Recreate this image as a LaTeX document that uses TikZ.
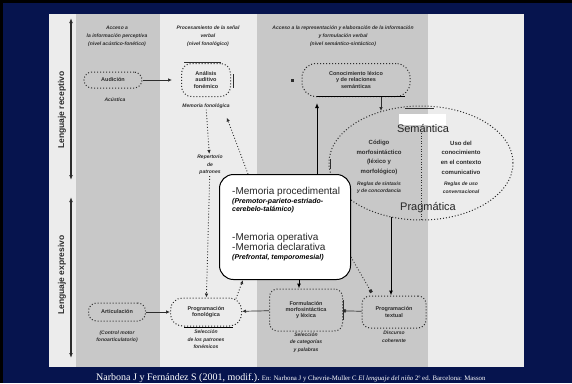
\documentclass[tikz,border=0pt]{standalone}
\usepackage{fontspec}
\setmainfont{Liberation Sans}
\newfontfamily\serifa{Liberation Serif}
\usetikzlibrary{arrows.meta,shapes.geometric}
\definecolor{fondo}{RGB}{6,20,78}
\definecolor{banda}{RGB}{200,200,200}
\definecolor{claro}{RGB}{236,236,236}
\definecolor{tinta}{RGB}{45,45,45}
\begin{document}
\begin{tikzpicture}[x=1pt,y=-1pt,
            caja/.style={draw=tinta,dotted,line width=1pt,rounded corners=8pt,align=center,text=tinta,font=\fontsize{5.5}{6.2}\selectfont\bfseries,inner sep=1pt},
            nota/.style={align=center,text=tinta,font=\fontsize{5}{7.5}\selectfont\bfseries\itshape},
            cabeza/.style={align=center,text=tinta,font=\fontsize{5}{8}\selectfont\bfseries\itshape},
            flecha/.style={draw=tinta,line width=0.7pt,-{Latex[length=4pt,width=3.5pt]}},
            punteado/.style={draw=tinta,dotted,line width=0.9pt,-{Latex[length=4pt,width=3.5pt]}},
            solida/.style={draw=black,line width=1pt,-{Latex[length=5pt,width=4pt]}},
            memo/.style={anchor=base west,inner sep=0pt,text=black!85,font=\fontsize{10}{12}\selectfont},
            cita/.style={anchor=base west,inner sep=0pt,font=\fontsize{7}{8}\selectfont\bfseries\itshape}]
            \fill[fondo] (0,0) rectangle (572,383);
            \fill[black] (0,0) rectangle (572,3);
            \fill[black] (0,0) rectangle (3,383);
            \useasboundingbox (0,0) rectangle (572,383);
            \fill[claro] (49,14) rectangle (524,367);
            \fill[banda] (76,14) rectangle (160,367);
            \fill[banda] (257,14) rectangle (428,367);
            \coordinate (ejeA) at (71,18);
            \coordinate (ejeB) at (71,180);
            \coordinate (ejeC) at (71,197);
            \coordinate (ejeD) at (71,358);
            \draw[tinta,line width=1.2pt,{Latex[length=5pt]}-{Latex[length=5pt]}] (ejeA) -- (ejeB);
            \draw[tinta,line width=1.2pt,{Latex[length=5pt]}-{Latex[length=5pt]}] (ejeC) -- (ejeD);
            \node[rotate=90,text=tinta,font=\fontsize{8.5}{9}\selectfont\bfseries] (receptivo) at (62,110) {Lenguaje receptivo};
            \node[rotate=90,text=tinta,font=\fontsize{8.5}{9}\selectfont\bfseries] (expresivo) at (62,275) {Lenguaje expresivo};
            \node[cabeza] (cab1) at (117,36) {Acceso a\\la información perceptiva\\(nivel acústico-fonético)};
            \node[cabeza] (cab2) at (208,36) {Procesamiento de la señal\\verbal\\(nivel fonológico)};
            \node[cabeza] (cab3) at (343,36) {Acceso a la representación y elaboración de la información\\y formulación verbal\\(nivel semántico-sintáctico)};
            \node[caja,minimum width=58,minimum height=16] (audicion) at (113,80) {Audición};
            \node[nota] (acustica) at (115,100) {Acústica};
            \node[caja,minimum width=49,minimum height=33,rounded corners=10pt] (analisis) at (206,80) {Análisis\\auditivo\\fonémico};
            \draw[tinta,line width=0.9pt] (184,62) -- (221,62);
            \draw[tinta,line width=0.9pt] (233,74) -- (233,88);
            \draw[flecha,shorten >=9pt] (audicion) -- (analisis);
            \node[nota,fill=claro,inner sep=1pt] (memfon) at (206,106) {Memoria fonológica};
            \node[nota,fill=claro,inner sep=1pt] (repertorio) at (210,165) {Repertorio\\de\\patrones};
            \node[caja,minimum width=108,minimum height=33,rounded corners=14pt] (lexico) at (356,80) {Conocimiento léxico\\y de relaciones\\semánticas};
            \draw[black,line width=1pt] (317,96) -- (405,96);
            \fill[tinta] (290.5,78.5) rectangle (294,82);
            \draw[flecha] ([xshift=25pt]lexico.south) -- +(0,14);
            \node[draw=tinta,dotted,line width=1pt,ellipse,minimum width=184,minimum height=114] (elipse) at (421,163) {};
            \draw[tinta,line width=0.9pt] (405,108) -- (434,108);
            \draw[tinta,line width=0.9pt] (330,159) -- (330,169);
            \draw[tinta,dotted,line width=0.6pt] (421,133) -- (421,220);
            \node[align=center,text=tinta,font=\fontsize{6}{9.7}\selectfont\bfseries] (codigo) at (379,157.5) {Código\\morfosintáctico\\(léxico y\\morfológico)};
            \node[align=center,text=tinta,font=\fontsize{6}{9.7}\selectfont\bfseries] (uso) at (461,157.5) {Uso del\\conocimiento\\en el contexto\\comunicativo};
            \node[nota] (reglas) at (379,187.5) {Reglas de sintaxis\\y de concordancia};
            \node[nota] (conversa) at (461,187.5) {Reglas de uso\\conversacional};
            \fill[white] (399,114) rectangle (446,125);
            \node[font=\fontsize{11}{12}\selectfont,text=black!85,inner sep=0pt] (semantica) at (423,129) {Semántica};
            \node[font=\fontsize{11}{12}\selectfont,text=black!85,inner sep=0pt] (pragmatica) at (428,208) {Pragmática};
            \node[caja,minimum width=57,minimum height=18] (articulacion) at (117,312) {Articulación};
            \node[nota] (control) at (117,336.5) {(Control motor\\fonoarticulatorio)};
            \node[caja,minimum width=71,minimum height=28,rounded corners=12pt] (fonologica) at (206,312) {Programación\\fonológica};
            \draw[black,line width=1pt] (184,327) -- (233,327);
            \node[nota] (seleccion) at (206,339.5) {Selección\\de los patrones\\fonémicos};
            \node[caja,minimum width=73,minimum height=42] (morfo) at (306,310) {Formulación\\morfosintáctica\\y léxica};
            \draw[tinta,line width=0.9pt] (343,300) -- (343,320);
            \node[nota] (categorias) at (306,342.5) {Selección\\de categorías\\y palabras};
            \node[caja,minimum width=64,minimum height=32] (textual) at (394,312) {Programación\\textual};
            \node[nota] (discurso) at (394,336.5) {Discurso\\coherente};
            \draw[punteado] (memfon) -- (repertorio);
            \draw[punteado] (repertorio) -- (fonologica);
            \draw[flecha] (articulacion) -- (fonologica);
            \draw[flecha] (morfo) -- (fonologica);
            \draw[tinta,line width=0.7pt,-{Square[length=3pt,width=3pt]}] (textual) -- (morfo);
            \node[draw=black,line width=1pt,fill=white,rounded corners=14pt,minimum width=131,minimum height=105,anchor=north west] (memoria) at (219,174) {};
            \node[memo] (proc) at (232,194.5) {-Memoria procedimental};
            \node[cita] (premotor) at (232,203.5) {(Premotor-parieto-estriado-};
            \node[cita] (cerebelo) at (232,211.5) {cerebelo-talámico)};
            \node[memo] (operativa) at (232,240.5) {-Memoria operativa};
            \node[memo] (declarativa) at (232,250.5) {-Memoria declarativa};
            \node[cita] (prefrontal) at (232,259.5) {(Prefrontal, temporomesial)};
            \draw[punteado] ([xshift=29pt]memoria.north west) -- ([xshift=-4pt,yshift=-8pt]memfon.south east);
            \draw[punteado] ([xshift=-6pt,yshift=-1pt]fonologica.north east) -- ([xshift=24pt]memoria.south west);
            \draw[solida] ([xshift=98pt]memoria.north west) -- ([xshift=-39pt,yshift=-6pt]lexico.south);
            \draw[solida] ([xshift=80pt]memoria.south west) -- ([xshift=-7pt]morfo.north);
            \coordinate (elsur) at (391,217);
            \draw[solida] (elsur) -- ([xshift=-3pt]textual.north);
            \draw[tinta,dotted,line width=0.9pt,-{Square[length=3pt,width=3pt]}] ([yshift=-30pt]memoria.east) -- ([xshift=10pt,yshift=3pt]textual.north west);
            \node[anchor=base west,text=white,inner sep=0pt,font=\serifa\fontsize{10}{12}\selectfont] (cita1) at (96,380) {Narbona J y Fernández S (2001, modif.).};
            \node[anchor=base west,text=white,inner sep=0pt,font=\serifa\fontsize{6.8}{8}\selectfont] (cita2) at (cita1.base east) {\ En: Narbona J y Chevrie-Muller C \textit{El lenguaje del niño} 2º ed. Barcelona: Masson};
        \end{tikzpicture}
\end{document}
